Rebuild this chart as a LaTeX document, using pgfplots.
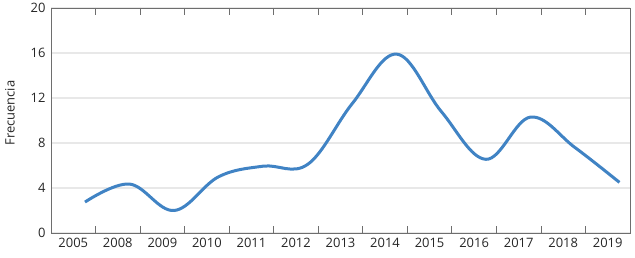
\documentclass[border=0pt]{standalone}
\usepackage{fontspec}
\setmainfont{Open Sans}
\usepackage{pgfplots}
\pgfplotsset{compat=1.18}
\definecolor{linec}{RGB}{64,131,196}
\definecolor{axc}{RGB}{110,110,110}
\definecolor{gridc}{RGB}{232,232,232}
\begin{document}
\begin{tikzpicture}
\begin{axis}[
  scale only axis,
  width=579bp, height=225bp,
  xmin=-0.5, xmax=12.5,
  ymin=0, ymax=20,
  ytick={0,4,8,12,16,20},
  xtick={-0.5,0.5,1.5,2.5,3.5,4.5,5.5,6.5,7.5,8.5,9.5,10.5,11.5,12.5},
  x tick label as interval,
  xticklabels={2005,2008,2009,2010,2011,2012,2013,2014,2015,2016,2017,2018,2019},
  ymajorgrids,
  grid style={gridc, line width=1.2bp},
  axis line style={axc, line width=0.8bp},
  every tick/.style={axc, line width=0.8bp},
  xtick align=inside,
  major tick length=7bp,
  ytick style={draw=none},
  /pgf/number format/assume math mode=true,
  tick label style={font=\fontsize{13}{15}\selectfont, text=black!85},
  yticklabel style={xshift=-2bp},
  xticklabel style={yshift=-2bp},
  ylabel={Frecuencia},
  ylabel style={font=\fontsize{13}{15}\selectfont, text=black!85, at={(axis description cs:-0.0708,0.533)}, anchor=center, rotate=0},
  clip=false,
]
\addplot[linec, line width=3bp, smooth, tension=0.62] coordinates {
  (0.263,2.75) (1.263,4.35) (2.263,2.0) (3.263,5.0) (4.263,5.94)
  (5.263,6.1) (6.263,11.5) (7.263,15.9) (8.263,10.8) (9.263,6.55)
  (10.263,10.3) (11.263,7.6) (12.263,4.5)
};
\coordinate (bl) at (rel axis cs:0,0);
\coordinate (tr) at (rel axis cs:1,1);
\end{axis}
\pgfresetboundingbox
\path[use as bounding box] ([shift={(-51bp,-25bp)}]bl) rectangle ([shift={(5bp,8bp)}]tr);
\end{tikzpicture}
\end{document}
